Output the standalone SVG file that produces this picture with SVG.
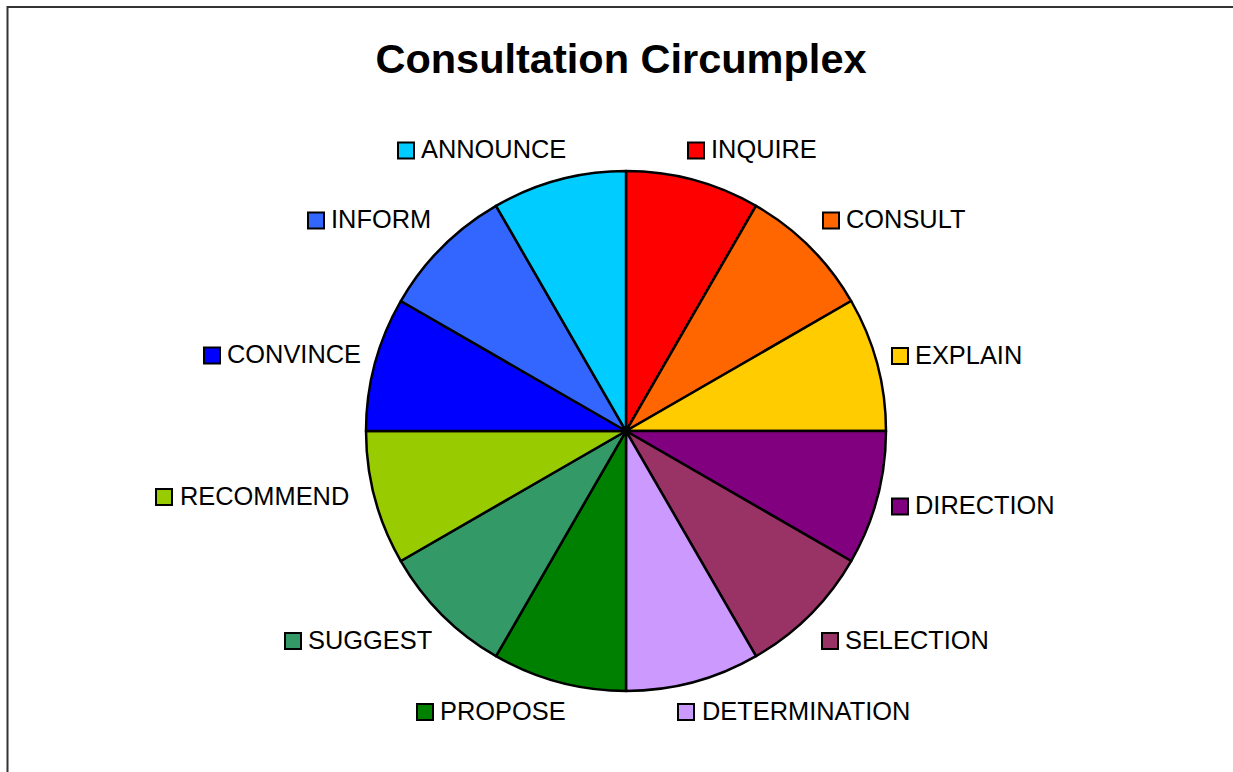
<svg xmlns="http://www.w3.org/2000/svg" width="1233" height="772" viewBox="0 0 1233 772">
<style>
.t{font-family:"Liberation Sans",Arial,sans-serif;font-size:25.4px;fill:#000}
.title{font-family:"Liberation Sans",Arial,sans-serif;font-size:41.5px;font-weight:bold;fill:#000}
.sl{stroke:#000;stroke-width:2.5;stroke-linejoin:round}
.sq{stroke:#000;stroke-width:2}
</style>
<rect width="1233" height="772" fill="#fff"/>
<rect x="7.5" y="7" width="1240" height="780" fill="none" stroke="#333" stroke-width="2"/>
<text class="title" x="621" y="73" text-anchor="middle">Consultation Circumplex</text>
<g id="pie">
<path id="s-inquire" class="sl" fill="#FF0000" d="M626,431 L626,171 A260,260 0 0 1 756,205.83 Z"/>
<path id="s-consult" class="sl" fill="#FF6600" d="M626,431 L756,205.83 A260,260 0 0 1 851.17,301 Z"/>
<path id="s-explain" class="sl" fill="#FFCC00" d="M626,431 L851.17,301 A260,260 0 0 1 886,431 Z"/>
<path id="s-direction" class="sl" fill="#800080" d="M626,431 L886,431 A260,260 0 0 1 851.17,561 Z"/>
<path id="s-selection" class="sl" fill="#993366" d="M626,431 L851.17,561 A260,260 0 0 1 756,656.17 Z"/>
<path id="s-determination" class="sl" fill="#CC99FF" d="M626,431 L756,656.17 A260,260 0 0 1 626,691 Z"/>
<path id="s-propose" class="sl" fill="#008000" d="M626,431 L626,691 A260,260 0 0 1 496,656.17 Z"/>
<path id="s-suggest" class="sl" fill="#339966" d="M626,431 L496,656.17 A260,260 0 0 1 400.83,561 Z"/>
<path id="s-recommend" class="sl" fill="#99CC00" d="M626,431 L400.83,561 A260,260 0 0 1 366,431 Z"/>
<path id="s-convince" class="sl" fill="#0000FF" d="M626,431 L366,431 A260,260 0 0 1 400.83,301 Z"/>
<path id="s-inform" class="sl" fill="#3366FF" d="M626,431 L400.83,301 A260,260 0 0 1 496,205.83 Z"/>
<path id="s-announce" class="sl" fill="#00CCFF" d="M626,431 L496,205.83 A260,260 0 0 1 626,171 Z"/>
</g>
<g id="legend">
<g id="l-announce"><rect class="sq" x="398" y="142.5" width="16" height="16" fill="#00CCFF"/><text class="t" x="421" y="158">ANNOUNCE</text></g>
<g id="l-inquire"><rect class="sq" x="688" y="142.5" width="16" height="16" fill="#FF0000"/><text class="t" x="711" y="158">INQUIRE</text></g>
<g id="l-inform"><rect class="sq" x="308" y="212.5" width="16" height="16" fill="#3366FF"/><text class="t" x="331" y="228">INFORM</text></g>
<g id="l-consult"><rect class="sq" x="823" y="212.5" width="16" height="16" fill="#FF6600"/><text class="t" x="846" y="228">CONSULT</text></g>
<g id="l-convince"><rect class="sq" x="204" y="347.5" width="16" height="16" fill="#0000FF"/><text class="t" x="227" y="363">CONVINCE</text></g>
<g id="l-explain"><rect class="sq" x="892" y="348" width="16" height="16" fill="#FFCC00"/><text class="t" x="915" y="363.5">EXPLAIN</text></g>
<g id="l-recommend"><rect class="sq" x="156" y="489" width="16" height="16" fill="#99CC00"/><text class="t" x="180" y="504.5">RECOMMEND</text></g>
<g id="l-direction"><rect class="sq" x="892" y="498.5" width="16" height="16" fill="#800080"/><text class="t" x="915" y="514">DIRECTION</text></g>
<g id="l-suggest"><rect class="sq" x="285" y="633" width="16" height="16" fill="#339966"/><text class="t" x="308" y="648.5">SUGGEST</text></g>
<g id="l-selection"><rect class="sq" x="822" y="633" width="16" height="16" fill="#993366"/><text class="t" x="845" y="648.5">SELECTION</text></g>
<g id="l-propose"><rect class="sq" x="417" y="704" width="16" height="16" fill="#008000"/><text class="t" x="440" y="719.5">PROPOSE</text></g>
<g id="l-determination"><rect class="sq" x="678" y="704" width="16" height="16" fill="#CC99FF"/><text class="t" x="702" y="719.5">DETERMINATION</text></g>
</g>
</svg>
